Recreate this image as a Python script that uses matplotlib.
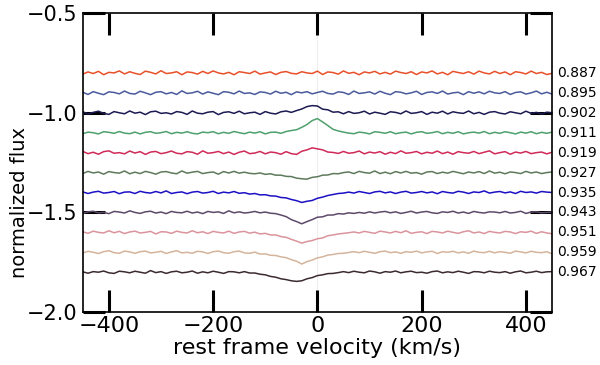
import matplotlib
matplotlib.use("Agg")
import matplotlib.pyplot as plt
import numpy as np

# velocity grid of the plotted spectra (km/s)
velocity = np.arange(-450, 451, 10)

# phase labels shown on the right, top to bottom
phases = ["0.887", "0.895", "0.902", "0.911", "0.919", "0.927",
          "0.935", "0.943", "0.951", "0.959", "0.967"]

# vertical offset of each spectrum
offsets = [-0.8, -0.9, -1.0, -1.1, -1.2, -1.3, -1.4, -1.5, -1.6, -1.7, -1.8]

colors = ["#e8502a", "#4a5a9c", "#1c1a52", "#4ea06c", "#d02a58", "#5e7a5c",
          "#1c10c4", "#5c4a6a", "#da949c", "#d4b49c", "#3c2a32"]

# flux relative to offset, in units of 0.001, rows of 10 points (-450 .. 450 km/s)
f887 = [-6, 5, -3, 8, -9, 3, 0, 10, -5, 6,
        -2, -8, 9, 3, -5, 11, -3, 0, 6, -9,
        5, 2, -6, 8, -3, 10, 0, -5, 3, -9,
        6, 2, -3, 9, -6, 0, 5, -8, 3, 7,
        -2, -5, 6, 0, -3, 9, -8, 5, 2, -6,
        10, -2, 3, -9, 5, 0, 8, -5, 3, -6,
        9, 2, -3, 6, -8, 5, 0, 10, -5, 3,
        -9, 8, 2, -3, 6, -6, 9, 0, -5, 8,
        -3, 5, -9, 6, 2, -5, 9, -3, 3, -8,
        -2]
f895 = [3, -8, 6, -2, -9, 5, 2, -5, 9, -3,
        -6, 8, 0, -9, 3, 6, -5, 2, -8, 10,
        -3, 0, 8, -6, 5, -2, -9, 6, 3, -5,
        9, -3, 0, -8, 5, 2, -6, 8, -2, 3,
        -9, 5, 0, 6, -5, 2, 8, -3, -6, 5,
        2, -8, 9, -3, 0, 5, -6, 8, -2, -9,
        6, 3, -5, 0, 8, -8, 2, 5, -3, 9,
        -6, 0, 3, -9, 6, -2, 5, -5, 8, 0,
        -3, 6, -8, 2, 5, -6, 0, 9, -5, 3,
        -6]
f902 = [5, -6, 2, 8, -3, -8, 6, 0, -5, 9,
        -2, 3, -9, 5, 8, -3, 0, -6, 6, 2,
        -8, 9, -2, -5, 3, 6, -9, 2, 5, -3,
        8, -5, 0, 3, -8, 6, -2, -6, 5, 9,
        2, 11, 19, 31, 36, 34, 18, 15, 3, 5,
        -5, 6, -3, 0, 8, -6, 3, -2, -8, 5,
        2, -5, 9, -3, 0, 6, -8, 3, -2, 8,
        -6, 5, 0, -3, 9, -5, 2, -8, 3, 6,
        -2, -6, 5, 0, -5, 8, -3, 2, -6, 3,
        0]
f911 = [-5, 3, 0, -6, 5, 2, -3, 6, -2, -5,
        3, -6, 2, 5, -3, 0, 6, -5, 2, -2,
        5, -3, -6, 3, 0, 5, -5, 2, -3, 6,
        0, -5, 3, -2, 5, -6, 2, 3, -3, 6,
        11, 15, 27, 41, 61, 71, 54, 36, 17, 9,
        3, -2, -5, 3, 0, -6, 5, 2, -3, 5,
        -5, 0, 3, -6, 2, 5, -3, 0, 6, -5,
        2, -3, 5, -6, 0, 3, -2, 6, -5, 2,
        -3, 5, 0, -6, 3, -2, 5, -5, 2, -3,
        3]
f919 = [6, -5, 2, -8, 5, 9, -3, 0, -6, 8,
        -2, 5, -9, 3, 6, -5, 0, 8, -3, -6,
        5, 2, -8, 9, -3, 0, 6, -5, 3, -9,
        2, 8, -5, -2, 6, -6, 3, 0, -8, 5,
        -5, -9, 7, 14, 24, 19, 14, 3, 1, -4,
        6, -3, 0, 8, -6, 3, -2, 5, -8, 2,
        -5, 9, -3, 0, 6, -6, 2, -3, 8, -5,
        3, -8, 5, 0, -3, 6, -5, 2, 9, -6,
        0, 5, -8, 3, -2, 6, -5, 0, 3, -6,
        2]
f927 = [-5, 6, -2, 3, -8, 5, 0, -3, 8, -6,
        2, -5, 6, 0, -8, 3, 5, -2, -6, 8,
        -3, 2, 6, -5, 0, 3, -8, 5, -2, 6,
        -3, 2, -4, -6, -2, -9, -6, -13, -13, -19,
        -20, -28, -31, -33, -24, -21, -13, -12, -5, -6,
        0, 3, -5, 6, 0, -3, 8, -5, 2, -6,
        5, -2, 6, -3, 0, -8, 3, 5, -5, 2,
        -3, 6, 0, -6, 3, -2, 5, -5, 8, -3,
        2, -6, 3, 0, -5, 6, -2, 3, -5, 0,
        3]
f935 = [3, -5, 2, 6, -3, 0, 5, -6, 2, 3,
        -5, 6, 0, -3, 5, -2, 8, -5, 0, 3,
        -6, 2, 5, -3, 0, 6, -5, 2, -2, 5,
        -4, -1, -8, -5, -12, -11, -17, -18, -25, -27,
        -35, -41, -50, -44, -40, -29, -23, -15, -10, -5,
        -3, 2, -3, 5, 0, -5, 3, 6, -2, 3,
        -5, 2, 6, -3, 0, 5, -2, 3, -6, 5,
        0, -3, 6, 2, -5, 3, 0, 8, -3, 2,
        5, -2, 3, -5, 6, 0, 3, -3, 5, 2,
        0]
f943 = [-5, 3, 6, -2, 0, -6, 5, 2, -3, 8,
        0, -5, 3, 6, -3, 2, -6, 5, 0, -2,
        6, -3, 2, -6, 5, 0, 3, -5, 8, -2,
        3, -3, 0, 5, -2, 2, -4, -6, -13, -21,
        -36, -46, -57, -46, -36, -24, -22, -13, -13, -6,
        -8, -2, -5, 0, -4, 3, -3, 2, 5, -2,
        3, -5, 0, 6, -3, 2, 5, -2, -5, 3,
        0, 6, -3, 2, -5, 5, 0, -3, 3, 2,
        -2, 5, -3, 0, 6, -5, 2, 3, -2, 0,
        2]
f951 = [3, -5, 6, 0, -3, 8, -2, 5, -6, 2,
        6, -3, 0, 5, -8, 3, 2, -5, 6, 0,
        -3, 8, -2, 3, -6, 5, 0, -3, 6, -5,
        2, 5, -4, 1, -8, -5, -13, -13, -21, -25,
        -35, -44, -54, -46, -41, -32, -28, -17, -13, -8,
        -5, -2, 2, -3, 5, 0, -5, 6, 2, -3,
        5, -2, 8, -5, 0, 3, -6, 5, 2, -3,
        6, 0, -5, 3, 8, -3, 2, -6, 5, 0,
        -3, 5, 2, -6, 3, 0, 6, -5, 3, -3,
        -7]
f959 = [-3, 5, 0, -6, 3, 8, -2, -5, 6, 2,
        -5, 3, 6, -3, 0, 5, -6, 2, 8, -3,
        0, -5, 5, 2, -6, 3, 6, -2, -5, 3,
        6, -3, -5, 1, -9, -8, -15, -16, -23, -27,
        -37, -45, -59, -47, -39, -28, -23, -14, -11, -6,
        -5, -1, 3, -2, 5, 0, -5, 3, 6, -2,
        2, -5, 3, 0, 6, -3, 2, 5, -6, 3,
        0, 5, -3, 2, -5, 6, 0, -2, 5, -3,
        3, 0, -5, 6, 2, -3, 5, 0, -2, 3,
        -8]
f967 = [2, -5, 3, 0, 6, -3, -6, 5, 2, -3,
        5, 0, -5, 8, -2, 3, -6, 2, 5, -3,
        0, 6, -5, 2, -3, 5, 0, -6, 3, 2,
        -3, 3, -4, -4, -10, -13, -21, -25, -33, -37,
        -43, -46, -43, -33, -27, -17, -13, -7, -6, -2,
        3, -2, 5, 0, -3, 6, 2, -5, 3, 0,
        6, -3, 2, 5, -2, 0, -5, 3, 6, -3,
        2, -2, 5, 0, -6, 3, 2, -3, 5, 0,
        -2, 3, -5, 2, 6, -3, 0, 5, -2, 2,
        3]

spectra = [f887, f895, f902, f911, f919, f927, f935, f943, f951, f959, f967]

fig = plt.figure(figsize=(6.0, 3.65), dpi=100)
ax = fig.add_axes([0.138, 0.145, 0.782, 0.819])

ax.axvline(0, color="#eeeeee", lw=0.8, zorder=0)

for flux, off, col, ph in zip(spectra, offsets, colors, phases):
    y = off + np.array(flux) / 1000.0
    ax.plot(velocity, y, color=col, lw=1.1)
    ax.text(1.01, off, ph, transform=ax.get_yaxis_transform(),
            ha="left", va="center", fontsize=10)

ax.set_xlim(-450, 450)
ax.set_ylim(-2.0, -0.5)
ax.set_xticks([-400, -200, 0, 200, 400])
ax.set_yticks([-2.0, -1.5, -1.0, -0.5])

ax.tick_params(direction="in", length=16, width=2.2, top=True, right=True)
ax.tick_params(axis="x", labelsize=16, pad=3)
ax.tick_params(axis="y", labelsize=15, pad=4)
for s in ax.spines.values():
    s.set_linewidth(1.2)

ax.set_xlabel("rest frame velocity (km/s)", fontsize=16, labelpad=1)
ax.set_ylabel("normalized flux", fontsize=14)
ax.yaxis.set_label_coords(-0.115, 0.365)

fig.savefig("out.png", dpi=100)
